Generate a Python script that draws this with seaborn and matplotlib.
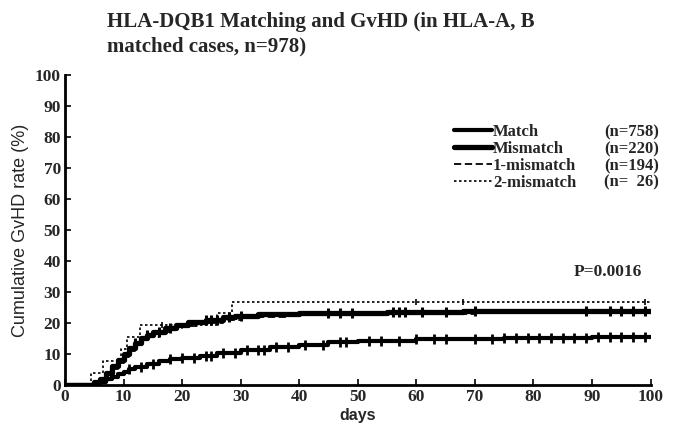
import numpy as np
import pandas as pd
import matplotlib
matplotlib.use("Agg")
import matplotlib.pyplot as plt
from matplotlib.lines import Line2D
import seaborn as sns

# Cumulative GvHD incidence (%) step points by HLA-DQB1 status
match_days = [0, 5, 6, 7, 8, 9, 10, 11, 12, 14, 16, 18, 20, 23, 26, 30, 35, 40, 45, 50, 60, 75, 90]
match_rate = [0, 0.5, 1.0, 1.8, 2.6, 3.4, 4.2, 5.0, 5.8, 6.8, 7.6, 8.3, 8.8, 9.5, 10.2, 11.2, 12.2, 13.0, 13.8, 14.3, 14.8, 15.2, 15.5]
match_cens = [11, 13, 15, 18, 20, 22, 24, 25, 27, 29, 31, 33, 34, 36, 38, 41, 44, 47, 48, 52, 54, 57,
              60, 63, 65, 70, 73, 75, 77, 79, 81, 83, 85, 87, 89, 91, 93, 95, 97, 99]

mism_days = [0, 5, 6, 7, 8, 9, 10, 11, 12, 13, 14, 15, 17, 19, 21, 24, 27, 29, 33, 40, 55, 68, 92]
mism_rate = [0, 1.0, 2.0, 4.0, 6.0, 8.0, 10.0, 12.0, 13.5, 15.0, 16.0, 17.0, 18.3, 19.3, 20.2, 21.0, 21.8, 22.3, 22.8, 23.2, 23.5, 23.8, 24.0]
mism_cens = [12, 14, 16, 18, 24, 25, 26, 28, 30, 45, 47, 49, 56, 57, 58, 61, 65, 70, 89, 93, 95, 97, 99]

one_days = [0, 5, 6, 7, 8, 9, 10, 11, 12, 13, 14, 16, 18, 20, 23, 27, 30, 38, 50, 70]
one_rate = [0, 1.0, 2.0, 3.5, 5.0, 7.0, 9.0, 11.0, 13.0, 14.5, 15.5, 17.0, 18.0, 19.0, 20.0, 21.0, 22.0, 22.5, 23.0, 23.3]

two_days = [0, 4.5, 6.5, 9.5, 10.6, 12.8, 26.0, 28.6]
two_rate = [0, 3.8, 7.7, 11.5, 15.4, 19.2, 23.1, 26.9]
two_cens = [16.5, 60, 68, 99]

groups = ["Match", "Mismatch", "1-mismatch", "2-mismatch"]
group_n = ["(n=758)", "(n=220)", "(n=194)", "(n=  26)"]

x_ticks = list(range(0, 101, 10))
y_ticks = list(range(0, 101, 10))

sns.set_theme(style="white")
plt.rcParams["font.family"] = ["Liberation Serif", "DejaVu Serif"]

fig = plt.figure(figsize=(6.73, 4.41), dpi=100)
ax = fig.add_axes([0.0966, 0.127, 0.870, 0.703])


def step_frame(days, rate, end=100):
    d = list(days) + [end]
    r = list(rate) + [rate[-1]]
    return pd.DataFrame({"day": d, "rate": r})


def at(days, rate, t):
    idx = np.searchsorted(np.asarray(days), np.asarray(t), side="right") - 1
    return np.asarray(rate)[idx]


styles = {
    "Match": dict(lw=3.0, ls="-"),
    "Mismatch": dict(lw=3.8, ls="-"),
    "1-mismatch": dict(lw=1.3, ls=(0, (4, 2))),
    "2-mismatch": dict(lw=1.2, ls=(0, (1.5, 1.5))),
}
series = {
    "Match": (match_days, match_rate),
    "Mismatch": (mism_days, mism_rate),
    "1-mismatch": (one_days, one_rate),
    "2-mismatch": (two_days, two_rate),
}

for g in ["2-mismatch", "1-mismatch", "Match", "Mismatch"]:
    d, r = series[g]
    sns.lineplot(data=step_frame(d, r), x="day", y="rate", ax=ax, color="black",
                 drawstyle="steps-post", estimator=None, linewidth=styles[g]["lw"],
                 linestyle=styles[g]["ls"])

# censoring ticks
for d, r, c, ms, mew in [(match_days, match_rate, match_cens, 6.5, 2.0),
                         (mism_days, mism_rate, mism_cens, 7.5, 2.2),
                         (two_days, two_rate, two_cens, 5, 1.2)]:
    ax.plot(c, at(d, r, c), linestyle="none", marker="|", markersize=ms,
            markeredgewidth=mew, color="black")

ax.set_xlim(0, 100)
ax.set_ylim(0, 100)
ax.set_xticks(x_ticks)
ax.set_yticks(y_ticks)
ax.set_xticklabels([str(v) for v in x_ticks], fontsize=12.5, fontweight="bold")
ax.set_yticklabels([str(v) for v in y_ticks], fontsize=12.5, fontweight="bold")
ax.tick_params(axis="both", direction="in", length=4, width=1.2, color="black", pad=3,
               bottom=True, left=True)
for side in ["top", "right"]:
    ax.spines[side].set_visible(False)
for side in ["left", "bottom"]:
    ax.spines[side].set_color("black")
    ax.spines[side].set_linewidth(2.0)

ax.set_xlabel("days", family=["Liberation Sans"], fontsize=11.5, fontweight="bold", labelpad=2)
ax.set_ylabel("Cumulative GvHD rate (%)", family=["Liberation Sans"], fontsize=13, labelpad=4)

ax.text(98.5, 33.8, "P=0.0016", fontsize=12.5, fontweight="bold", ha="right", va="bottom")

fig.text(0.159, 0.973, "HLA-DQB1 Matching and GvHD (in HLA-A, B\nmatched cases, n=978)",
         fontsize=15, fontweight="bold", ha="left", va="top", linespacing=1.3)

handles = [Line2D([], [], color="black", lw=styles[g]["lw"], ls=styles[g]["ls"]) for g in groups]
leg1 = ax.legend(handles, groups, loc="upper left", bbox_to_anchor=(0.65, 0.868),
                 frameon=False, prop={"size": 12, "weight": "bold"},
                 handlelength=2.3, handletextpad=0.05, labelspacing=0.05, borderpad=0)
ax.add_artist(leg1)
blank = [Line2D([], [], color="none") for _ in groups]
ax.legend(blank, group_n, loc="upper left", bbox_to_anchor=(0.907, 0.868),
          frameon=False, prop={"size": 12, "weight": "bold"},
          handlelength=0, handletextpad=0, labelspacing=0.05, borderpad=0)

fig.savefig("out.png", dpi=100)
